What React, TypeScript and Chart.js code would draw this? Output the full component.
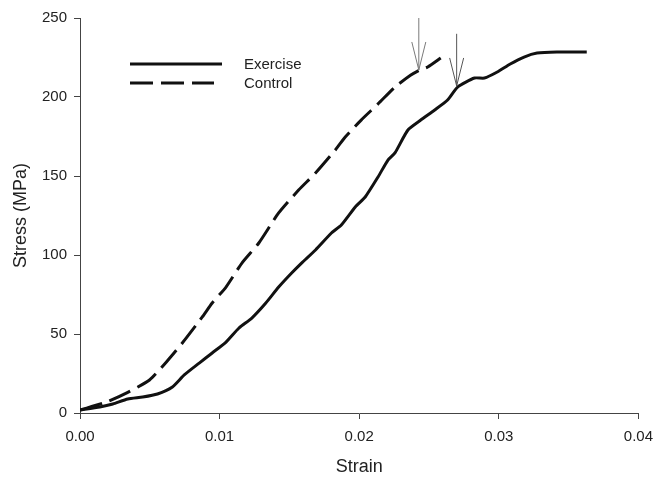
import React, { useEffect, useRef } from "react";
import { Chart, registerables } from "chart.js";

Chart.register(...registerables);

const exerciseStrain = [0, 0.00142, 0.00235, 0.00342, 0.00449, 0.00555, 0.00662, 0.00747, 0.00854, 0.00947, 0.01046, 0.01139, 0.01231, 0.01331, 0.01423, 0.01516, 0.01587, 0.01687, 0.01801, 0.01872, 0.01972, 0.02043, 0.02135, 0.02206, 0.02256, 0.02349, 0.02441, 0.02541, 0.02633, 0.02705, 0.02826, 0.02897, 0.02989, 0.03082, 0.03181, 0.03274, 0.03416, 0.0363];
const exerciseStress = [1.9, 3.8, 5.7, 8.9, 10.1, 12.0, 16.5, 24.1, 31.6, 38.0, 44.9, 53.8, 60.1, 69.6, 79.7, 88.6, 94.9, 103.2, 113.9, 119.0, 130.4, 136.7, 149.4, 160.1, 164.6, 179.1, 185.4, 191.8, 198.1, 206.3, 212.0, 212.0, 215.8, 220.9, 225.3, 227.8, 228.5, 228.5];

const controlStrain = [0, 0.00192, 0.00335, 0.00498, 0.00619, 0.00733, 0.00876, 0.00947, 0.01046, 0.0116, 0.01281, 0.01423, 0.01566, 0.01687, 0.01829, 0.019, 0.02014, 0.02135, 0.02256, 0.0237, 0.02434, 0.02491, 0.02584];
const controlStress = [1.9, 7.0, 12.7, 20.9, 32.3, 44.3, 60.8, 69.6, 79.7, 94.9, 107.6, 126.6, 141.1, 151.9, 166.5, 174.7, 185.4, 195.6, 206.3, 213.9, 217.1, 219.0, 224.7];

// failure arrows: [strain, top stress, tip stress]
const arrowStrain = [0.02427, 0.02698];
const arrowTop = [250, 240];
const arrowTip = [217.1, 207];

const seriesNames = ["Exercise", "Control"];
const xTicks = [0, 0.01, 0.02, 0.03, 0.04];

const FONT = "'Liberation Sans', Arial, sans-serif";

export default function App() {
  const ref = useRef<HTMLCanvasElement | null>(null);
  useEffect(() => {
    document.body.style.margin = "0";
    const canvas = ref.current;
    if (!canvas) return;

    const overlay = {
      id: "overlay",
      afterDatasetsDraw(chart: any) {
        const ctx = chart.ctx;
        const xs = chart.scales.x;
        const ys = chart.scales.y;
        ctx.save();
        // arrows
        const arrowColors = ["#7a7a7a", "#555"];
        ctx.lineWidth = 1;
        for (let i = 0; i < arrowStrain.length; i++) {
          ctx.strokeStyle = arrowColors[i];
          const x = xs.getPixelForValue(arrowStrain[i]);
          const yt = ys.getPixelForValue(arrowTop[i]);
          const yp = ys.getPixelForValue(arrowTip[i]);
          ctx.beginPath();
          ctx.moveTo(x, yt);
          ctx.lineTo(x, yp);
          ctx.moveTo(x - 7, yp - 28);
          ctx.lineTo(x, yp);
          ctx.lineTo(x + 7, yp - 28);
          ctx.stroke();
        }
        // legend
        const ds = chart.data.datasets;
        const lx0 = 130, tx = 244;
        const lx1 = [222, 214];
        const rows = [64, 83];
        ctx.font = `15px ${FONT}`;
        ctx.textBaseline = "middle";
        ctx.textAlign = "left";
        for (let i = 0; i < ds.length; i++) {
          ctx.strokeStyle = ds[i].borderColor;
          ctx.lineWidth = ds[i].borderWidth;
          ctx.setLineDash(ds[i].borderDash || []);
          ctx.beginPath();
          ctx.moveTo(lx0, rows[i]);
          ctx.lineTo(lx1[i], rows[i]);
          ctx.stroke();
          ctx.setLineDash([]);
          ctx.fillStyle = "#222";
          ctx.fillText(ds[i].label, tx, rows[i] + 1);
        }
        ctx.restore();
      },
    };

    const chart = new Chart(canvas, {
      type: "scatter",
      data: {
        datasets: [
          {
            label: seriesNames[0],
            data: exerciseStrain.map((x, i) => ({ x, y: exerciseStress[i] })),
            showLine: true,
            borderColor: "#111",
            borderWidth: 3,
            pointRadius: 0,
            tension: 0.2,
            fill: false,
          },
          {
            label: seriesNames[1],
            data: controlStrain.map((x, i) => ({ x, y: controlStress[i] })),
            showLine: true,
            borderColor: "#111",
            borderWidth: 3,
            borderDash: [23, 8],
            pointRadius: 0,
            tension: 0.2,
            fill: false,
          },
        ],
      },
      options: {
        animation: false,
        responsive: false,
        maintainAspectRatio: false,
        layout: { padding: { left: 0, right: 20, top: 18, bottom: 0 } },
        plugins: { legend: { display: false }, tooltip: { enabled: false } },
        scales: {
          x: {
            type: "linear",
            min: 0,
            max: 0.04,
            afterFit: (s: any) => { s.height = 67; },
            afterBuildTicks: (s: any) => { s.ticks = xTicks.map((v) => ({ value: v })); },
            ticks: {
              callback: (v: any) => Number(v).toFixed(2),
              font: { family: FONT, size: 15 },
              color: "#222",
              padding: 9,
              maxRotation: 0,
            },
            grid: { display: true, drawOnChartArea: false, drawTicks: true, tickLength: 6, color: "#444" },
            border: { display: true, color: "#444", width: 1 },
            title: {
              display: true,
              text: "Strain",
              font: { family: FONT, size: 18 },
              color: "#222",
              padding: { top: 0, bottom: 2 },
            },
          },
          y: {
            type: "linear",
            min: 0,
            max: 250,
            afterFit: (s: any) => { s.width = 80; },
            ticks: {
              stepSize: 50,
              font: { family: FONT, size: 15 },
              color: "#222",
              padding: 7,
            },
            grid: { display: true, drawOnChartArea: false, drawTicks: true, tickLength: 6, color: "#444" },
            border: { display: true, color: "#444", width: 1 },
            title: {
              display: true,
              text: "Stress (MPa)",
              font: { family: FONT, size: 18 },
              color: "#222",
              padding: { top: 10, bottom: 0 },
            },
          },
        },
      },
      plugins: [overlay],
    });
    return () => chart.destroy();
  }, []);
  return <canvas ref={ref} width={662} height={480} style={{ display: "block" }} />;
}
